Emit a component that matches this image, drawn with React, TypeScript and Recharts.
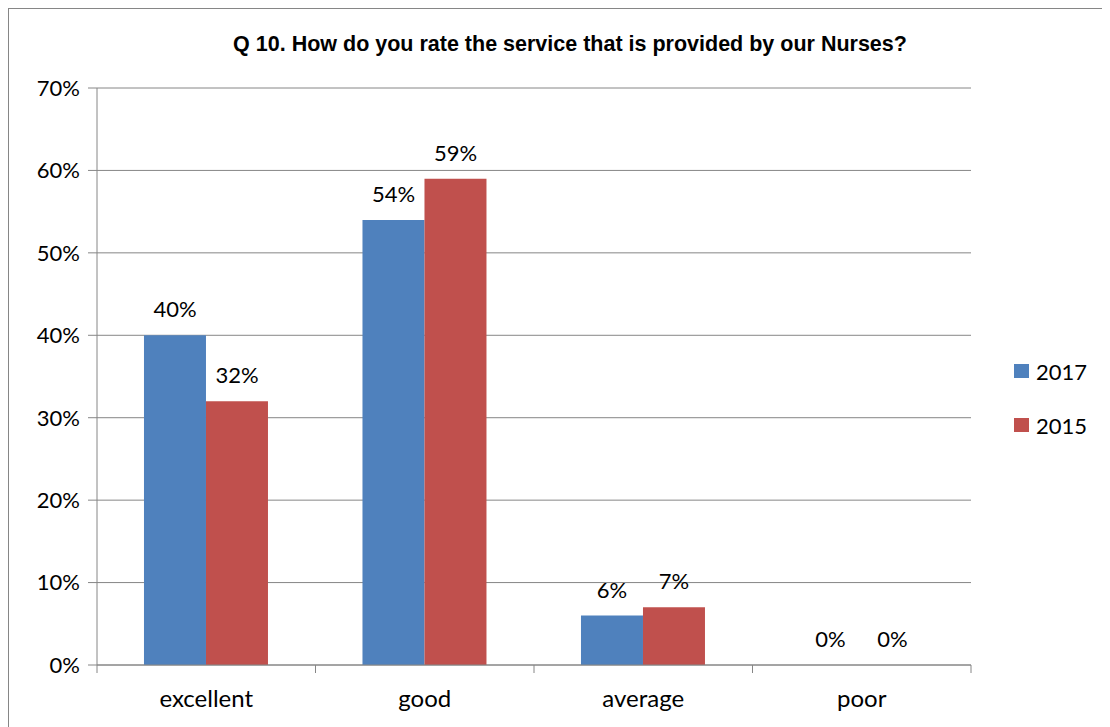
import React from "react";
import { BarChart, Bar, XAxis, YAxis, CartesianGrid, LabelList, Rectangle } from "recharts";

const categories = ["excellent", "good", "average", "poor"];
const values2017 = [0.4, 0.54, 0.06, 0];
const values2015 = [0.32, 0.59, 0.07, 0];
const yTicks = [0, 0.1, 0.2, 0.3, 0.4, 0.5, 0.6, 0.7];
const seriesNames = ["2017", "2015"];
const colors = ["#4F81BD", "#C0504D"];
const title = "Q 10. How do you rate the service that is provided by our Nurses?";

const data = categories.map((c, i) => ({
  name: c,
  s2017: values2017[i],
  s2015: values2015[i],
}));

const FONT = "Lato, 'Open Sans', sans-serif";
const FS = 22;
const pct = (v: number) => `${Math.round(v * 100)}%`;

const XTick = (props: any) => {
  const { x, y, payload, index, width } = props;
  const bw = width / categories.length;
  return (
    <g>
      <line x1={x - bw / 2} x2={x - bw / 2} y1={y - 8} y2={y} stroke="#868686" />
      {index === categories.length - 1 && (
        <line x1={x + bw / 2} x2={x + bw / 2} y1={y - 8} y2={y} stroke="#868686" />
      )}
      <text x={x} y={y + 34} textAnchor="middle" fontFamily={FONT} fontSize={24} fill="#000">
        {payload.value}
      </text>
    </g>
  );
};

const renderLabel = (props: any) => {
  const { x, y, width, value } = props;
  const v = Number(value) || 0;
  return (
    <text x={x + width / 2} y={y - 18 + (v === 0 ? 1 : 0)} textAnchor="middle" fontFamily={FONT} fontSize={FS} fill="#000">
      {pct(v)}
    </text>
  );
};

const BarShape = (props: any) => {
  const { value } = props;
  const v = Array.isArray(value) ? value[1] - value[0] : value;
  if (!v) return <g />;
  return <Rectangle {...props} />;
};

export default function App() {
  return (
    <div style={{ width: 1101, height: 718, borderLeft: "1px solid #868686", borderTop: "1px solid #868686", position: "relative" }}>
      <div
        style={{
          position: "absolute",
          left: 0,
          top: 23,
          width: 1122,
          textAlign: "center",
          fontFamily: "'Liberation Sans', Arial, sans-serif",
          fontWeight: "bold",
          fontSize: 21.5,
          color: "#000",
        }}
      >
        {title}
      </div>
      <div style={{ position: "absolute", left: 1005, top: 335, fontFamily: FONT, fontSize: FS, color: "#000" }}>
        {seriesNames.map((n, i) => (
          <div key={n} style={{ display: "flex", alignItems: "center", height: 54 }}>
            <span style={{ display: "inline-block", width: 15, height: 14, background: colors[i], marginRight: 7 }} />
            <span>{n}</span>
          </div>
        ))}
      </div>
      <BarChart
        width={1101}
        height={718}
        data={data}
        margin={{ top: 79, right: 139, left: 28, bottom: 22 }}
        barCategoryGap="21.5%"
        barGap={0}
      >
        <CartesianGrid vertical={false} stroke="#868686" />
        <XAxis
          dataKey="name"
          height={40}
          stroke="#868686"
          tickLine={false}
          tick={<XTick />}
          interval={0}
        />
        <YAxis
          width={60}
          domain={[0, 0.7]}
          ticks={yTicks}
          tickFormatter={pct}
          stroke="#868686"
          tickSize={9}
          tickMargin={8}
          tick={{ fill: "#000", fontSize: FS, fontFamily: FONT }}
          interval={0}
        />
        <Bar dataKey="s2017" name={seriesNames[0]} fill={colors[0]} isAnimationActive={false} minPointSize={1} shape={<BarShape />}>
          <LabelList dataKey="s2017" content={renderLabel} />
        </Bar>
        <Bar dataKey="s2015" name={seriesNames[1]} fill={colors[1]} isAnimationActive={false} minPointSize={1} shape={<BarShape />}>
          <LabelList dataKey="s2015" content={renderLabel} />
        </Bar>
      </BarChart>
    </div>
  );
}
